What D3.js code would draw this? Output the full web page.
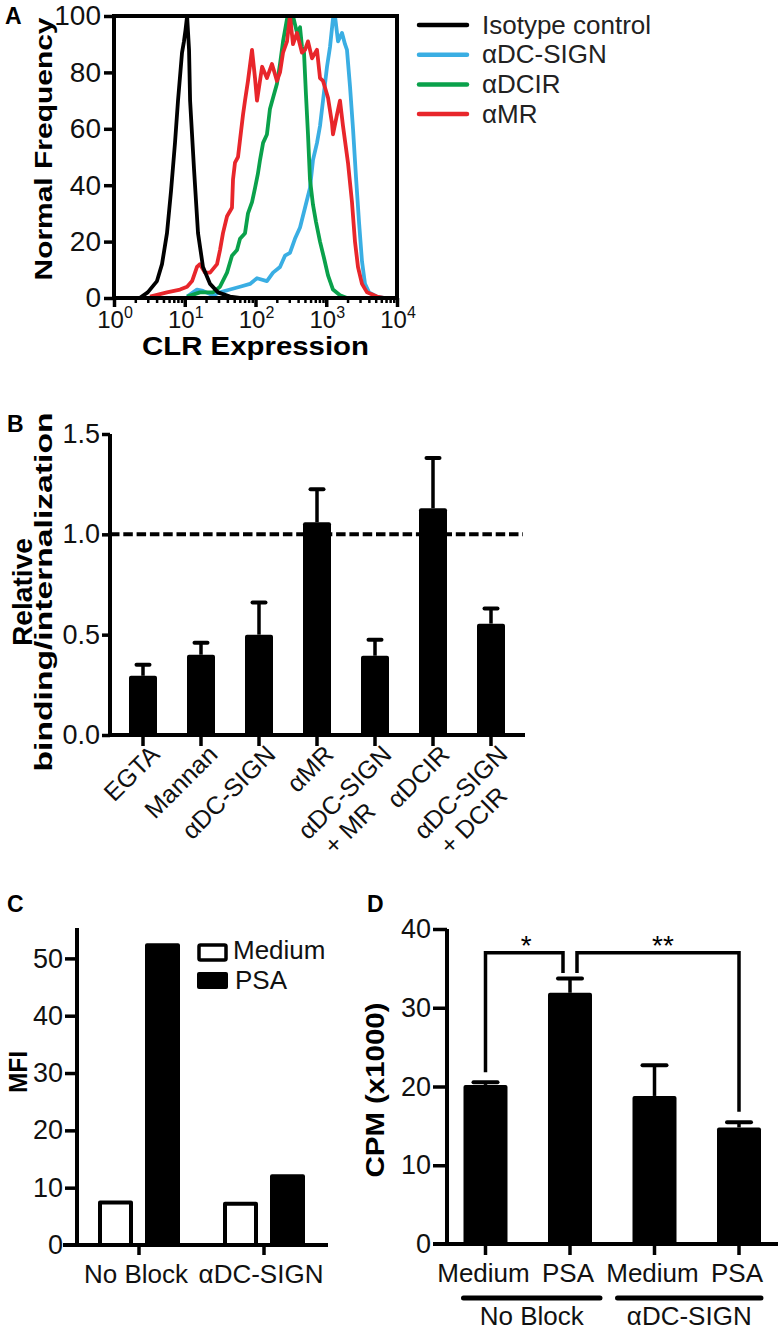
<!DOCTYPE html>
<html><head><meta charset="utf-8">
<script src="https://cdn.jsdelivr.net/npm/d3@7"></script>
<style>html,body{margin:0;padding:0;background:#fff}</style>
</head><body>
<svg id="fig" width="784" height="1332"></svg>
<script>
// ---------------- DATA ----------------
// Panel A: flow cytometry histograms [CLR expression, normalized frequency]
const isotypeCurve = [[1.2,0],[2.3,0],[3.0,2],[4.05,6],[4.77,12],[5.61,23],[6.4,38],[7.28,55],[8.03,70],[9.15,87],[9.75,91],[10.25,95],[10.8,100],[11.5,88],[11.9,70],[13.5,46],[15.4,23],[18.1,11],[22.8,5],[29.5,2],[43.6,0.5],[60,0]];
const dcsignCurve = [[10.8,0.5],[14.9,3],[18.1,2.5],[25.1,1],[31.5,2],[43.6,3],[60.4,4],[83.6,5],[105,7],[145,6],[177,9],[222,11],[261,15],[307,16],[361,21],[426,25],[501,32],[589,39],[650,49],[740,55],[816,61],[900,70],[1025,82],[1130,89],[1245,99],[1329,100],[1466,91],[1671,94],[1841,90],[1963,88],[2167,75],[2390,60],[2630,43],[2904,27],[3200,13],[3530,5],[4020,2],[5210,0.5],[6761,0]];
const dcirCurve = [[10.8,0.5],[16.4,2],[25.1,2],[31.5,4],[39.6,9],[46.5,15],[54.8,17],[60.4,21],[71.1,23],[78.3,30],[89.3,34],[98.4,39],[108,44],[116,49],[128,55],[145,58],[160,67],[177,71],[201,76],[222,83],[245,91],[279,99],[307,96],[339,100],[386,94],[426,96],[454,89],[485,87],[517,72],[552,58],[589,42],[650,33],[716,27],[816,20],[933,14],[1059,8],[1245,3],[1563,1],[1963,0]];
const mrCurve = [[3.23,0.5],[5.61,2],[8.57,3],[10.8,4],[12.7,6],[14.9,11],[16.4,12],[19.3,9],[22.8,9],[28.6,12],[31.5,17],[34.7,23],[39.6,29],[46.5,32],[48.1,42],[51.3,48],[56.6,50],[60.4,56],[66.6,65],[71.1,70],[78.3,77],[89.3,88],[98.4,78],[105,70],[124,82],[145,78],[171,83],[201,77],[222,80],[245,87],[279,91],[307,100],[339,90],[386,94],[454,87],[501,88],[552,91],[629,85],[740,88],[816,78],[900,77],[1059,71],[1205,62],[1245,58],[1419,65],[1563,70],[1725,61],[2028,48],[2310,34],[2547,20],[2810,11],[3200,5],[3767,2],[5210,0.5],[6761,0]];
const legendNames = ["Isotype control","αDC-SIGN","αDCIR","αMR"];
const legendColors = ["#000000","#3aaee3","#0aa14b","#e8262b"];
const aYTicks = [0,20,40,60,80,100];
const aDecades = [1,10,100,1000,10000];
const aDecadeExp = ["0","1","2","3","4"];

// Panel B
const bindingCategories = ["EGTA","Mannan","αDC-SIGN","αMR","αDC-SIGN\n+ MR","αDCIR","αDC-SIGN\n+ DCIR"];
const bindingValues = [0.295,0.40,0.50,1.06,0.395,1.13,0.555];
const bindingErrors = [0.055,0.06,0.16,0.165,0.08,0.25,0.075];
const bYTicks = [0,0.5,1.0,1.5];

// Panel C
const mfiGroups = ["No Block","αDC-SIGN"];
const mfiSeries = ["Medium","PSA"];
const mfiMedium = [7.4,7.2];
const mfiPSA = [52.3,12.0];
const cYTicks = [0,10,20,30,40,50];

// Panel D
const cpmCategories = ["Medium","PSA","Medium ","PSA "];
const cpmGroups = ["No Block","αDC-SIGN"];
const cpmValues = [20.2,31.9,18.8,14.8];
const cpmErrors = [0.35,1.8,3.9,0.65];
const dYTicks = [0,10,20,30,40];
const cpmBrackets = [{from:0,to:1,top:37.0,leftEnd:21.8,rightEnd:34.4,label:"*"},
                     {from:1,to:3,top:37.0,leftEnd:34.4,rightEnd:16.8,label:"**"}];

// ---------------- DRAWING ----------------
const FONT = "'Liberation Sans', Arial, Helvetica, sans-serif";
const INK = "#000";
const TXT = "#111";
const svg = d3.select("#fig");
svg.append("rect").attr("width",784).attr("height",1332).attr("fill","#fff");

function txt(g, s, x, y, fs, opts={}) {
  const t = g.append("text").attr("x",x).attr("y",y).text(s)
    .attr("font-family",FONT).attr("font-size",fs).attr("fill",opts.fill||TXT);
  if (opts.bold) t.attr("font-weight","bold");
  if (opts.anchor) t.attr("text-anchor",opts.anchor);
  if (opts.transform) t.attr("transform",opts.transform);
  if (opts.len) t.attr("textLength",opts.len).attr("lengthAdjust","spacingAndGlyphs");
  return t;
}
function styleAxis(g, fs, sw) {
  g.attr("font-size",null).attr("font-family",null);
  g.selectAll("path.domain").remove();
  g.selectAll(".tick line").attr("stroke",INK).attr("stroke-width",sw);
  g.selectAll(".tick text").attr("font-family",FONT).attr("font-size",fs).attr("fill",TXT);
}
function rotLabel(g, s, cx, cy, fs, len) {
  return txt(g, s, 0, 0, fs, {bold:true, anchor:"middle", len:len, fill:INK,
    transform:`translate(${cx},${cy}) rotate(-90)`});
}

// ===== Panel A =====
const gA = svg.append("g");
const ax = d3.scaleLog().domain([1,1e4]).range([114,397]);
const ay = d3.scaleLinear().domain([0,100]).range([298,16]);
txt(gA,"A",5,24,23,{bold:true,fill:INK});
const lineA = d3.line().x(d=>ax(d[0])).y(d=>ay(d[1]));
[[dcsignCurve,1],[dcirCurve,2],[mrCurve,3],[isotypeCurve,0]].forEach(([data,i])=>{
  gA.append("path").attr("d",lineA(data)).attr("fill","none")
    .attr("stroke",legendColors[i]).attr("stroke-width",3.8).attr("stroke-linejoin","round");
});
// frame
gA.append("rect").attr("x",ax(1)).attr("y",ay(100)).attr("width",ax(1e4)-ax(1)).attr("height",ay(0)-ay(100))
  .attr("fill","none").attr("stroke",INK).attr("stroke-width",4);
const ayAxis = gA.append("g").attr("transform",`translate(${ax(1)},0)`)
  .call(d3.axisLeft(ay).tickValues(aYTicks).tickSize(10).tickPadding(3));
styleAxis(ayAxis,28,3.5);
// minor + major x ticks
const minorVals = [];
aDecades.slice(0,4).forEach(d=>{ for(let k=2;k<=9;k++) minorVals.push(d*k); });
const axMinor = gA.append("g").attr("transform",`translate(0,${ay(0)})`)
  .call(d3.axisBottom(ax).tickValues(minorVals).tickSize(5).tickFormat(""));
styleAxis(axMinor,10,2.5);
const axMajor = gA.append("g").attr("transform",`translate(0,${ay(0)})`)
  .call(d3.axisBottom(ax).tickValues(aDecades).tickSize(9).tickFormat(""));
styleAxis(axMajor,10,3.5);
aDecades.forEach((d,i)=>{
  const t = gA.append("text").attr("x",ax(d)+1).attr("y",328).attr("text-anchor","middle")
    .attr("font-family",FONT).attr("fill",TXT);
  t.append("tspan").attr("font-size",24).text("10");
  t.append("tspan").attr("font-size",16).attr("dy",-10).text(aDecadeExp[i]);
});
rotLabel(gA,"Normal Frequency",52,149,24,263);
txt(gA,"CLR Expression",(ax(1)+ax(1e4))/2,355,26,{bold:true,anchor:"middle",fill:INK,len:227});
// legend
legendNames.forEach((n,i)=>{
  const y = 25 + i*29.7;
  gA.append("line").attr("x1",419).attr("x2",467).attr("y1",y).attr("y2",y)
    .attr("stroke",legendColors[i]).attr("stroke-width",4.5).attr("stroke-linecap","round");
  txt(gA,n,482,y+8.5,26,{fill:"#222"});
});

// ===== Panel B =====
const gB = svg.append("g");
const bx = d3.scaleBand().domain(bindingCategories).range([114,520]).paddingInner(30/58).paddingOuter(15/58);
const by = d3.scaleLinear().domain([0,1.5]).range([735,434]);
txt(gB,"B",7,432,23,{bold:true,fill:INK});
// dashed reference
gB.append("line").attr("x1",110).attr("x2",523).attr("y1",by(1)).attr("y2",by(1))
  .attr("stroke",INK).attr("stroke-width",4).attr("stroke-dasharray","9.5,3.8");
// bars
bindingCategories.forEach((c,i)=>{
  const x = bx(c), w = bx.bandwidth(), cx = x + w/2;
  const v = bindingValues[i], e = bindingErrors[i];
  gB.append("line").attr("x1",cx).attr("x2",cx).attr("y1",by(v)).attr("y2",by(v+e))
    .attr("stroke",INK).attr("stroke-width",3.5);
  gB.append("line").attr("x1",cx-6.5).attr("x2",cx+6.5).attr("y1",by(v+e)).attr("y2",by(v+e))
    .attr("stroke",INK).attr("stroke-width",4).attr("stroke-linecap","round");
  gB.append("rect").attr("x",x).attr("y",by(v)).attr("width",w).attr("height",by(0)-by(v))
    .attr("fill",INK).attr("rx",2);
});
// axes
gB.append("line").attr("x1",110).attr("x2",110).attr("y1",by(1.5)).attr("y2",by(0)+2)
  .attr("stroke",INK).attr("stroke-width",4);
gB.append("line").attr("x1",108).attr("x2",525).attr("y1",by(0)).attr("y2",by(0))
  .attr("stroke",INK).attr("stroke-width",4);
const byAxis = gB.append("g").attr("transform","translate(110,0)")
  .call(d3.axisLeft(by).tickValues(bYTicks).tickFormat(d3.format(".1f")).tickSize(8).tickPadding(2));
styleAxis(byAxis,27,3.5);
const bxAxis = gB.append("g").attr("transform",`translate(0,${by(0)})`)
  .call(d3.axisBottom(bx).tickSize(11).tickFormat(""));
styleAxis(bxAxis,10,3.5);
bindingCategories.forEach(c=>{
  const cx = bx(c)+bx.bandwidth()/2;
  const lines = c.split("\n");
  const g = gB.append("g").attr("transform",`translate(${cx+18},${by(0)+21}) rotate(-45)`);
  const t1 = txt(g,lines[0],0,0,25,{anchor:"end"});
  if (lines.length>1) {
    const w = t1.node().getComputedTextLength();
    txt(g,lines[1],-w+8,29,25,{anchor:"start"});
  }
});
rotLabel(gB,"Relative",32,592,28,108);
rotLabel(gB,"binding/internalization",52,592,24,359);

// ===== Panel C =====
const gC = svg.append("g");
const cx0 = d3.scaleBand().domain(mfiGroups).range([76.5,326.5]);
const cx1 = d3.scaleBand().domain(mfiSeries).range([-39,39]).paddingInner(16/47);
const cy = d3.scaleLinear().domain([0,55.3]).range([1245,928]);
txt(gC,"C",7,912,23,{bold:true,fill:INK});
mfiGroups.forEach((gname,gi)=>{
  const gc = cx0(gname)+cx0.bandwidth()/2;
  [[mfiMedium,"Medium","#fff"],[mfiPSA,"PSA",INK]].forEach(([arr,s,fill])=>{
    const v = arr[gi];
    gC.append("rect").attr("x",gc+cx1(s)).attr("y",cy(v)).attr("width",cx1.bandwidth())
      .attr("height",cy(0)-cy(v)).attr("fill",fill).attr("stroke",INK).attr("stroke-width",4)
      .attr("stroke-linejoin","round");
  });
});
gC.append("line").attr("x1",77).attr("x2",77).attr("y1",cy(55.3)).attr("y2",cy(0))
  .attr("stroke",INK).attr("stroke-width",4);
gC.append("line").attr("x1",63).attr("x2",328).attr("y1",cy(0)).attr("y2",cy(0))
  .attr("stroke",INK).attr("stroke-width",4);
const cyAxis = gC.append("g").attr("transform","translate(77,0)")
  .call(d3.axisLeft(cy).tickValues(cYTicks).tickSize(12).tickPadding(2));
styleAxis(cyAxis,27,3.5);
cyAxis.selectAll(".tick").filter(d=>d===0).select("line").remove();
const cxAxis = gC.append("g").attr("transform",`translate(0,${cy(0)})`)
  .call(d3.axisBottom(cx0).tickSize(10).tickFormat(""));
styleAxis(cxAxis,10,3.5);
mfiGroups.forEach(gname=>{
  txt(gC,gname,cx0(gname)+cx0.bandwidth()/2-3,1283,26,{anchor:"middle"});
});
rotLabel(gC,"MFI",27,1072,26,42);
// legend
gC.append("rect").attr("x",199).attr("y",945).attr("width",27).attr("height",15)
  .attr("fill","#fff").attr("stroke",INK).attr("stroke-width",3.5).attr("rx",1.5);
gC.append("rect").attr("x",197).attr("y",972).attr("width",31).attr("height",17)
  .attr("fill",INK).attr("rx",2);
txt(gC,mfiSeries[0],233,959,26);
txt(gC,mfiSeries[1],235,989,26);

// ===== Panel D =====
const gD = svg.append("g");
const dx = d3.scaleBand().domain(cpmCategories).range([443.25,781.25]).paddingInner(0.4793).paddingOuter(0.2396);
const dy = d3.scaleLinear().domain([0,40]).range([1244,929]);
txt(gD,"D",367,912,23,{bold:true,fill:INK});
cpmCategories.forEach((c,i)=>{
  const x = dx(c), w = dx.bandwidth(), cxm = x+w/2, v = cpmValues[i], e = cpmErrors[i];
  gD.append("line").attr("x1",cxm).attr("x2",cxm).attr("y1",dy(v)).attr("y2",dy(v+e))
    .attr("stroke",INK).attr("stroke-width",3.5);
  gD.append("line").attr("x1",cxm-12).attr("x2",cxm+12).attr("y1",dy(v+e)).attr("y2",dy(v+e))
    .attr("stroke",INK).attr("stroke-width",4).attr("stroke-linecap","round");
  gD.append("rect").attr("x",x).attr("y",dy(v)).attr("width",w).attr("height",dy(0)-dy(v))
    .attr("fill",INK).attr("rx",2);
});
gD.append("line").attr("x1",447).attr("x2",447).attr("y1",dy(40)).attr("y2",dy(0))
  .attr("stroke",INK).attr("stroke-width",4);
gD.append("line").attr("x1",433).attr("x2",778).attr("y1",dy(0)).attr("y2",dy(0))
  .attr("stroke",INK).attr("stroke-width",4);
const dyAxis = gD.append("g").attr("transform","translate(447,0)")
  .call(d3.axisLeft(dy).tickValues(dYTicks).tickSize(14).tickPadding(2));
styleAxis(dyAxis,27,3.5);
dyAxis.selectAll(".tick").filter(d=>d===0).select("line").remove();
const dxAxis = gD.append("g").attr("transform",`translate(0,${dy(0)})`)
  .call(d3.axisBottom(dx).tickSize(11).tickFormat(""));
styleAxis(dxAxis,10,3.5);
cpmCategories.forEach(c=>{
  txt(gD,c.trim(),dx(c)+dx.bandwidth()/2-2,1282,26,{anchor:"middle"});
});
// group bars & labels
const dCenter = c => dx(c)+dx.bandwidth()/2;
[[0,1,-22,30],[2,3,-37,22]].forEach(([a,b,pl,pr],gi)=>{
  const x1 = dCenter(cpmCategories[a])+pl, x2 = dCenter(cpmCategories[b])+pr;
  gD.append("line").attr("x1",x1).attr("x2",x2).attr("y1",1298).attr("y2",1298)
    .attr("stroke",INK).attr("stroke-width",5).attr("stroke-linecap","round");
  txt(gD,cpmGroups[gi],(x1+x2)/2,1325,26,{anchor:"middle"});
});
// significance brackets
cpmBrackets.forEach((br,i)=>{
  let xl = dCenter(cpmCategories[br.from]), xr = dCenter(cpmCategories[br.to]);
  if (i===0) xr -= 7; else xl += 7;
  const p = d3.path();
  p.moveTo(xl,dy(br.leftEnd)); p.lineTo(xl,dy(br.top)); p.lineTo(xr,dy(br.top)); p.lineTo(xr,dy(br.rightEnd));
  gD.append("path").attr("d",p.toString()).attr("fill","none").attr("stroke",INK)
    .attr("stroke-width",3.5).attr("stroke-linejoin","miter");
  txt(gD,br.label,(xl+xr)/2+(i?5:2),955,28,{anchor:"middle",fill:INK});
});
rotLabel(gD,"CPM (x1000)",384,1090,25,175);
</script>
</body></html>
